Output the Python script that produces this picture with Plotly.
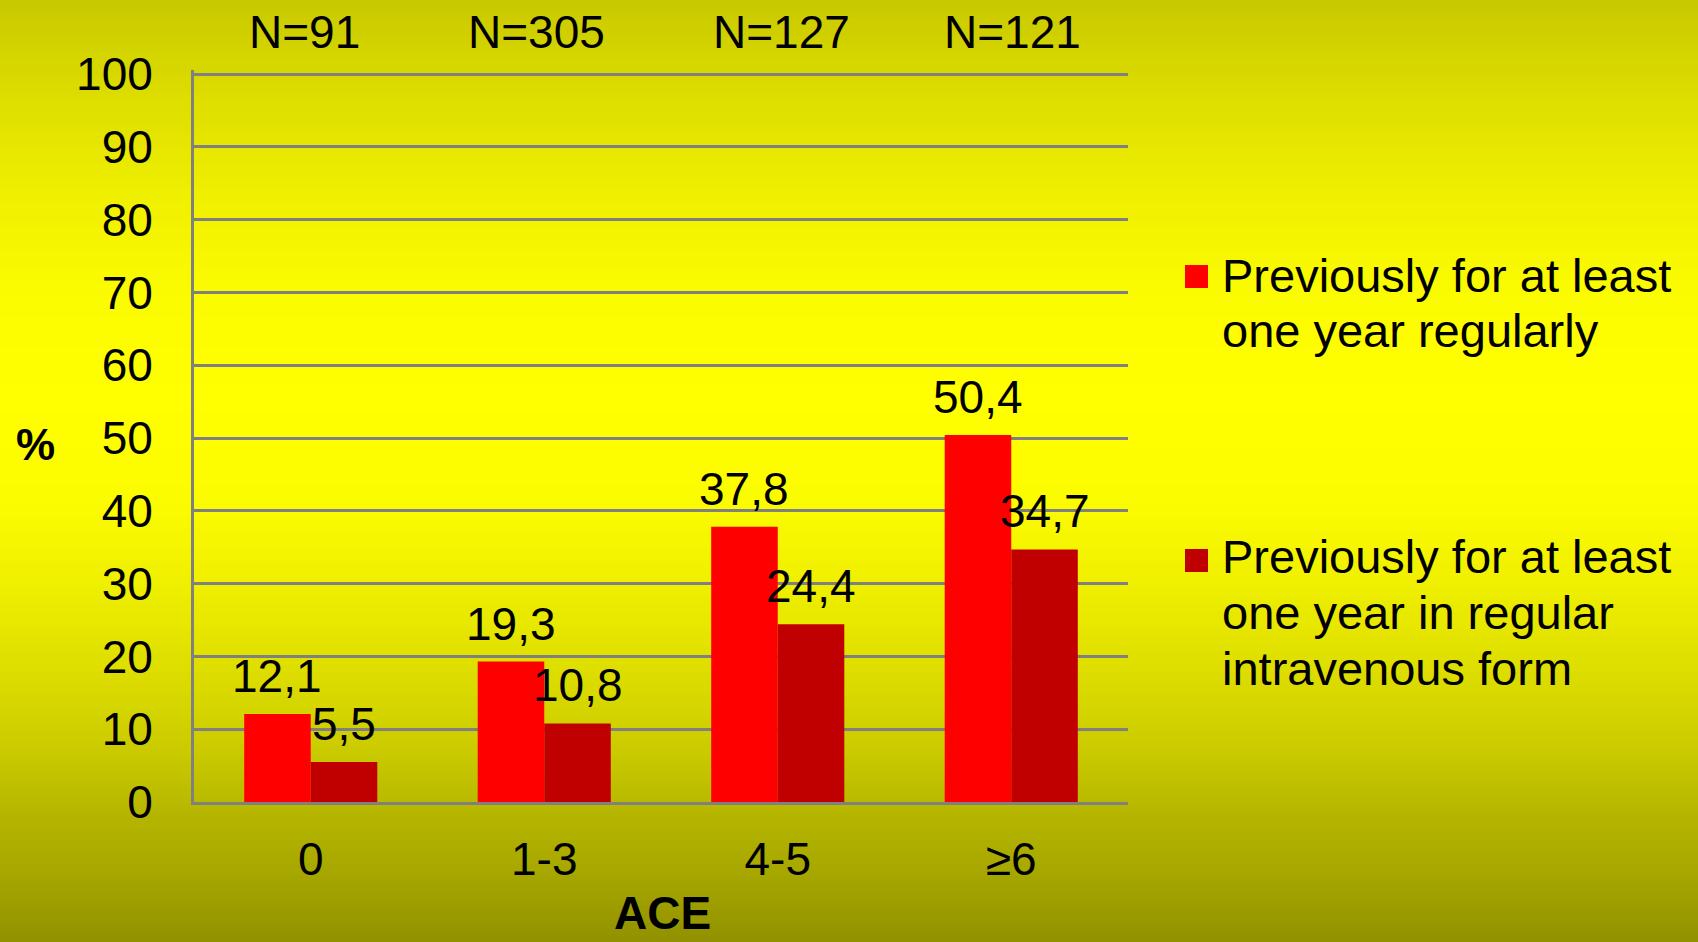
import plotly.graph_objects as go

# ---- data ----
categories = ["0", "1-3", "4-5", "≥6"]
n_labels = ["N=91", "N=305", "N=127", "N=121"]
series_names = [
    "Previously for at least<br>one year regularly",
    "Previously for at least<br>one year in regular<br>intravenous form",
]
regular = [12.1, 19.3, 37.8, 50.4]
intravenous = [5.5, 10.8, 24.4, 34.7]
y_ticks = [0, 10, 20, 30, 40, 50, 60, 70, 80, 90, 100]

# ---- styling / layout geometry (pixels) ----
W, H = 1698, 942
ML, MR, MT, MB = 194, 570, 70, 140
PW, PH = W - ML - MR, H - MT - MB
FONT = "Liberation Sans, Arial, sans-serif"
colors = ["#FF0000", "#C00000"]


def px_x(px):
    return (px - ML) / PW


def px_y(py):
    return (H - MB - py) / PH


fig = go.Figure()
for vals, name, col in zip([regular, intravenous], series_names, colors):
    fig.add_trace(go.Bar(x=categories, y=vals, name=name, marker_color=col,
                         marker_line_width=0, showlegend=False))

# background gradient (vertical)
stops = [(0, 200), (100, 222), (200, 240), (300, 252), (400, 255), (500, 252),
         (580, 240), (640, 228), (700, 215), (760, 200), (820, 180), (880, 165),
         (942, 145)]


def grad(py):
    for (y0, v0), (y1, v1) in zip(stops[:-1], stops[1:]):
        if y0 <= py <= y1:
            return v0 + (v1 - v0) * (py - y0) / (y1 - y0)
    return stops[-1][1]


shapes = []
step = 6
for py in range(0, H, step):
    v = int(round(grad(py + step / 2)))
    shapes.append(dict(type="rect", xref="paper", yref="paper", layer="below",
                       x0=px_x(-5), x1=px_x(W + 5), y0=px_y(py + step + 0.5), y1=px_y(py - 0.5),
                       fillcolor=f"rgb({v},{v},0)", line_width=0))

annotations = []
bw = 0.285
# value labels
for vals, off in [(regular, -bw / 2), (intravenous, bw / 2)]:
    for i, v in enumerate(vals):
        annotations.append(dict(x=i + off, y=v, xref="x", yref="y", text=f"{v:.1f}".replace(".", ","),
                                showarrow=False, yanchor="bottom", yshift=10,
                                font=dict(family=FONT, size=46, color="black")))
# N labels
n_shift = [-6, -8, 4, 1]
for i, t in enumerate(n_labels):
    annotations.append(dict(x=i, y=px_y(60), xref="x", yref="paper", text=t, showarrow=False,
                            yanchor="bottom", xshift=n_shift[i],
                            font=dict(family=FONT, size=46, color="black")))
# axis titles
annotations.append(dict(x=px_x(35), y=px_y(444), xref="paper", yref="paper", text="<b>%</b>",
                        showarrow=False, xanchor="center", yanchor="middle",
                        font=dict(family=FONT, size=44, color="black")))
annotations.append(dict(x=px_x(662), y=px_y(913), xref="paper", yref="paper", text="<b>ACE</b>",
                        showarrow=False, xanchor="center", yanchor="middle",
                        font=dict(family=FONT, size=46, color="black")))

# manual legend
leg_baselines = [[292, 347], [573, 629, 685]]
marker_tops = [265, 549]
for name, col, bases, mtop in zip(series_names, colors, leg_baselines, marker_tops):
    shapes.append(dict(type="rect", xref="paper", yref="paper",
                       x0=px_x(1185), x1=px_x(1208), y0=px_y(mtop + 23), y1=px_y(mtop),
                       fillcolor=col, line_width=0))
    for line, b in zip(name.split("<br>"), bases):
        annotations.append(dict(x=px_x(1220), y=px_y(b - 16.5), xref="paper", yref="paper",
                                text=line, showarrow=False, xanchor="left", yanchor="middle",
                                font=dict(family=FONT, size=47, color="black")))

fig.update_layout(
    width=W, height=H,
    margin=dict(l=ML, r=MR, t=MT, b=MB),
    paper_bgcolor="rgb(230,230,0)",
    plot_bgcolor="rgba(0,0,0,0)",
    barmode="group", bargap=0.43, bargroupgap=0,
    showlegend=False,
    font=dict(family=FONT, size=46, color="black"),
    shapes=shapes,
    annotations=annotations,
    xaxis=dict(showgrid=False, showline=True, linecolor="#808080", linewidth=3,
               ticks="", ticklabelstandoff=15, tickfont=dict(size=46), fixedrange=True),
    yaxis=dict(range=[0, 100.55], tickvals=y_ticks, showgrid=True, gridcolor="#808080", gridwidth=3,
               showline=True, linecolor="#808080", linewidth=3, zeroline=False,
               ticks="", ticklabelstandoff=29, tickfont=dict(size=46), fixedrange=True),
)

fig.write_html("out.html")
